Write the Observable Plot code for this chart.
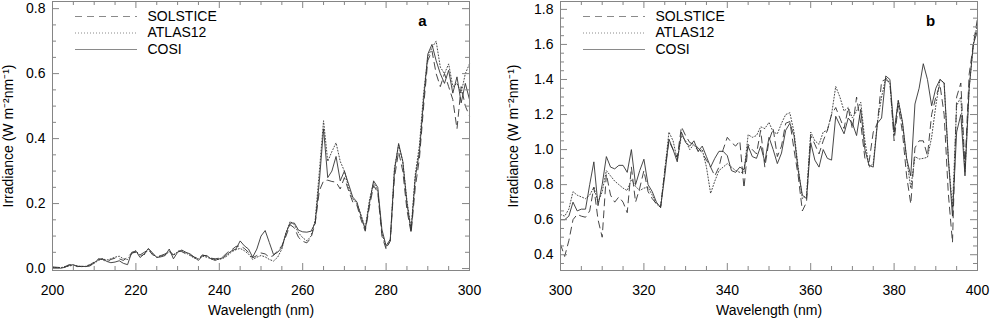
<!DOCTYPE html>
<html><head><meta charset="utf-8">
<script src="https://cdn.jsdelivr.net/npm/d3@7"></script>
<script src="https://cdn.jsdelivr.net/npm/@observablehq/plot@0.6"></script>
<style>
html,body{margin:0;padding:0;background:#fff;}
#wrap{display:flex;width:990px;height:320px;overflow:hidden;}
#wrap svg{display:block;}
</style></head><body><div id="wrap"></div>
<script>
// ---------- Panel a : 200-300 nm ----------
const wlA = [200,201,202,203,204,205,206,207,208,209,210,211,212,213,214,215,216,217,218,219,
220,221,222,223,224,225,226,227,228,229,230,231,232,233,234,235,236,237,238,239,
240,241,242,243,244,245,246,247,248,249,250,251,252,253,254,255,256,257,258,259,
260,261,262,263,264,265,266,267,268,269,270,271,272,273,274,275,276,277,278,279,
280,281,282,283,284,285,286,287,288,289,290,291,292,293,294,295,296,297,298,299,300];
const solsticeA = [0.005,0.004,0.003,0.006,0.012,0.010,0.007,0.006,0.008,0.012,0.020,0.030,0.028,0.020,0.028,0.032,0.030,0.025,0.035,0.048,
0.050,0.042,0.050,0.058,0.042,0.038,0.040,0.045,0.055,0.042,0.055,0.052,0.045,0.042,0.035,0.032,0.042,0.038,0.032,0.030,
0.032,0.038,0.050,0.058,0.068,0.070,0.062,0.050,0.033,0.040,0.048,0.045,0.035,0.040,0.055,0.070,0.100,0.135,0.125,0.096,
0.084,0.079,0.095,0.140,0.240,0.270,0.272,0.268,0.266,0.245,0.280,0.240,0.205,0.195,0.150,0.115,0.190,0.255,0.235,0.100,
0.060,0.085,0.280,0.360,0.300,0.180,0.110,0.250,0.340,0.500,0.640,0.670,0.600,0.560,0.600,0.560,0.520,0.430,0.560,0.500,0.470];
const atlasA = [0.004,0.003,0.003,0.005,0.008,0.010,0.008,0.006,0.007,0.010,0.016,0.025,0.030,0.026,0.030,0.035,0.038,0.030,0.028,0.045,
0.055,0.040,0.042,0.060,0.045,0.035,0.038,0.042,0.052,0.040,0.052,0.055,0.048,0.040,0.032,0.030,0.038,0.035,0.030,0.028,
0.028,0.032,0.040,0.052,0.058,0.062,0.055,0.045,0.028,0.035,0.040,0.036,0.028,0.023,0.035,0.060,0.110,0.145,0.135,0.110,
0.095,0.085,0.100,0.150,0.300,0.455,0.330,0.360,0.387,0.330,0.300,0.250,0.215,0.200,0.165,0.125,0.210,0.265,0.240,0.110,
0.065,0.085,0.310,0.380,0.330,0.210,0.120,0.290,0.380,0.540,0.650,0.680,0.700,0.620,0.600,0.630,0.560,0.570,0.540,0.600,0.630];
const cosiA = [0.003,0.002,0.001,0.004,0.010,0.012,0.006,0.007,0.006,0.008,0.018,0.028,0.030,0.022,0.018,0.020,0.024,0.016,0.012,0.050,
0.054,0.034,0.045,0.062,0.048,0.034,0.036,0.040,0.060,0.030,0.050,0.057,0.050,0.045,0.035,0.025,0.040,0.040,0.030,0.025,
0.030,0.034,0.045,0.055,0.060,0.085,0.070,0.060,0.035,0.060,0.100,0.117,0.080,0.043,0.050,0.065,0.110,0.140,0.140,0.118,
0.113,0.112,0.115,0.140,0.270,0.430,0.280,0.300,0.345,0.270,0.300,0.260,0.220,0.205,0.160,0.120,0.200,0.270,0.250,0.120,
0.070,0.090,0.300,0.385,0.330,0.200,0.115,0.280,0.360,0.520,0.660,0.690,0.640,0.600,0.570,0.610,0.540,0.590,0.510,0.570,0.520];

// ---------- Panel b : 300-400 nm ----------
const wlB = [300,301,302,303,304,305,306,307,308,309,310,311,312,313,314,315,316,317,318,319,
320,321,322,323,324,325,326,327,328,329,330,331,332,333,334,335,336,337,338,339,
340,341,342,343,344,345,346,347,348,349,350,351,352,353,354,355,356,357,358,359,
360,361,362,363,364,365,366,367,368,369,370,371,372,373,374,375,376,377,378,379,
380,381,382,383,384,385,386,387,388,389,390,391,392,393,394,395,396,397,398,399,400];
const solsticeB = [0.460,0.390,0.480,0.600,0.630,0.620,0.614,0.650,0.785,0.600,0.500,0.860,0.740,0.700,0.730,0.700,0.640,0.900,0.700,0.780,
0.880,0.760,0.720,0.690,0.670,0.880,1.050,1.000,0.956,1.130,1.080,1.040,1.030,1.010,0.980,0.940,0.900,0.850,0.900,1.000,
1.070,1.040,1.020,1.050,0.780,1.030,1.000,0.975,1.110,0.900,1.050,1.120,0.960,1.020,1.150,1.160,1.000,0.850,0.650,0.700,
1.080,1.030,0.975,1.050,1.110,1.200,1.240,1.180,1.120,1.240,1.117,1.300,1.150,0.950,0.930,1.100,1.150,1.390,1.400,1.380,
1.050,1.250,1.100,0.850,0.690,1.010,1.050,1.050,0.965,1.200,1.300,1.370,1.200,0.750,0.470,1.300,1.380,0.900,1.430,1.600,1.750];
const atlasB = [0.630,0.620,0.660,0.760,0.740,0.730,0.720,0.740,0.785,0.700,0.760,0.880,0.850,0.820,0.800,0.780,0.766,0.830,0.790,0.766,
0.780,0.785,0.740,0.690,0.670,0.880,1.100,1.050,0.940,1.080,1.050,1.000,1.030,0.990,1.000,0.900,0.750,0.820,0.880,0.900,
0.920,0.900,0.880,0.870,0.870,1.085,1.070,1.080,1.130,1.120,1.155,1.100,1.090,1.150,1.200,1.210,1.100,0.900,0.720,0.740,
1.100,1.050,1.030,1.100,1.110,1.200,1.360,1.300,1.220,1.240,1.180,1.220,1.270,1.050,0.900,0.920,1.155,1.300,1.410,1.380,
1.080,1.280,1.150,0.950,0.780,0.960,0.946,0.950,0.956,1.070,1.250,1.400,1.380,0.950,0.670,1.250,1.300,0.870,1.350,1.600,1.720];
const cosiB = [0.600,0.600,0.620,0.700,0.650,0.660,0.660,0.800,0.930,0.680,0.800,0.960,0.900,0.890,0.910,0.910,0.870,1.000,0.800,0.880,
0.945,0.800,0.760,0.700,0.670,0.850,1.060,1.000,0.930,1.100,1.040,1.020,1.050,0.990,1.020,0.960,0.900,0.950,0.990,0.990,
0.965,0.880,0.870,0.900,0.885,1.020,0.960,0.950,1.020,0.930,1.070,1.000,0.920,0.980,1.110,1.150,1.080,0.880,0.740,0.720,
1.040,0.940,0.900,1.000,0.950,0.940,1.190,1.140,1.090,1.180,1.150,1.080,1.230,1.000,0.910,0.900,1.150,1.180,1.420,1.400,
1.100,1.280,1.160,0.950,0.850,1.260,1.350,1.490,1.400,1.250,1.350,1.400,1.380,0.950,0.620,1.100,1.200,0.850,1.350,1.600,1.680];

// ---------- axes / labels ----------
const seriesNames = ["SOLSTICE", "ATLAS12", "COSI"];
const seriesDash = ["7,5", "1,2", null];
const xMajorA = [200, 220, 240, 260, 280, 300];
const xMajorB = [300, 320, 340, 360, 380, 400];
const yMajorA = [0.0, 0.2, 0.4, 0.6, 0.8];
const yMajorB = [0.4, 0.6, 0.8, 1.0, 1.2, 1.4, 1.6, 1.8];
const xTitle = "Wavelength (nm)";
const yTitle = "Irradiance (W m\u207B\u00B2nm\u207B\u00B9)";

const FONT = "'Liberation Sans', Arial, Helvetica, sans-serif";
const LINE = "#333";
const AXIS = "#858585";
const TICK = "#858585";
const LEG = "#8a8a8a";

function minorTicks(lo, hi, step, majors) {
  const out = [];
  const n0 = Math.ceil(lo / step - 1e-9), n1 = Math.floor(hi / step + 1e-9);
  for (let n = n0; n <= n1; n++) {
    const v = +(n * step).toFixed(6);
    if (!majors.some(m => Math.abs(m - v) < 1e-9)) out.push(v);
  }
  return out;
}

function panel(o) {
  const W = 495, H = 320, mT = 1, mB = 50;
  const plotW = W - o.marginLeft - o.marginRight, plotH = H - mT - mB;
  const [x0, x1] = o.xDomain, [y0, y1] = o.yDomain;
  const xpp = (x1 - x0) / plotW, ypp = (y1 - y0) / plotH; // data units per pixel
  const xMinor = minorTicks(x0, x1, 5, o.xMajor);
  const yMinor = minorTicks(y0, y1, 0.05, o.yMajor);
  const ticksX = (ticks, len) => [
    Plot.ruleX(ticks, {x: d => d, y1: () => y0, y2: () => y0 + len * ypp, stroke: TICK}),
    Plot.ruleX(ticks, {x: d => d, y1: () => y1, y2: () => y1 - len * ypp, stroke: TICK})
  ];
  const ticksY = (ticks, len) => [
    Plot.ruleY(ticks, {y: d => d, x1: () => x0, x2: () => x0 + len * xpp, stroke: TICK}),
    Plot.ruleY(ticks, {y: d => d, x1: () => x1, x2: () => x1 - len * xpp, stroke: TICK})
  ];
  const svg = Plot.plot({
    width: W, height: H,
    marginTop: mT, marginBottom: mB, marginLeft: o.marginLeft, marginRight: o.marginRight,
    x: {domain: o.xDomain},
    y: {domain: o.yDomain},
    style: {fontFamily: FONT, fontSize: "14px", color: "#000", background: "#fff", overflow: "visible"},
    marks: [
      ...o.series.map((vals, k) => Plot.line(vals.map((v, i) => ({wl: o.wl[i], v})),
        {x: "wl", y: "v", stroke: LINE, strokeWidth: 0.9, strokeDasharray: seriesDash[k]})),
      Plot.frame({stroke: AXIS, strokeWidth: 1}),
      ...ticksX(o.xMajor, 7), ...ticksX(xMinor, 4),
      ...ticksY(o.yMajor, 7), ...ticksY(yMinor, 4),
      Plot.axisX(o.xMajor, {anchor: "bottom", tickSize: 0, tickPadding: 15, tickFormat: d => String(d), label: null, fill: "#000"}),
      Plot.axisY(o.yMajor, {anchor: "left", tickSize: 0, tickPadding: 7, tickFormat: d => d.toFixed(1), label: null, fill: "#000"}),
      Plot.text([xTitle], {frameAnchor: "bottom", dy: 44, textAnchor: "middle", fill: "#000", text: d => d}),
      Plot.text([yTitle], {frameAnchor: "left", dx: o.yTitleDx, rotate: -90, textAnchor: "middle", lineAnchor: "middle", fill: "#000", text: d => d}),
      Plot.text([o.letter], {frameAnchor: "top-right", dx: -47, dy: 20, textAnchor: "middle", lineAnchor: "middle", fontWeight: "bold", fontSize: 15, fill: "#000", text: d => d}),
      ...seriesNames.map((name, k) => Plot.text([name], {frameAnchor: "top-left", dx: 95, dy: 15 + 16.5 * k, textAnchor: "start", lineAnchor: "middle", fill: "#000", text: d => d}))
    ]
  });
  // legend line samples (layout only, not data)
  const g = d3.select(svg).append("g").attr("fill", "none").attr("stroke", LEG).attr("stroke-width", 1);
  seriesNames.forEach((name, k) => {
    const y = mT + 15 + 16.5 * k + 0.5;
    g.append("line").attr("x1", o.marginLeft + 23).attr("x2", o.marginLeft + 85)
      .attr("y1", y).attr("y2", y).attr("stroke-dasharray", seriesDash[k]);
  });
  return svg;
}

const wrap = document.getElementById("wrap");
wrap.appendChild(panel({
  wl: wlA, series: [solsticeA, atlasA, cosiA],
  xDomain: [200, 300], yDomain: [-0.006, 0.822],
  xMajor: xMajorA, yMajor: yMajorA,
  marginLeft: 52, marginRight: 26, yTitleDx: -44, letter: "a"
}));
wrap.appendChild(panel({
  wl: wlB, series: [solsticeB, atlasB, cosiB],
  xDomain: [300, 400], yDomain: [0.31, 1.845],
  xMajor: xMajorB, yMajor: yMajorB,
  marginLeft: 65, marginRight: 13, yTitleDx: -47, letter: "b"
}));
</script></body></html>
